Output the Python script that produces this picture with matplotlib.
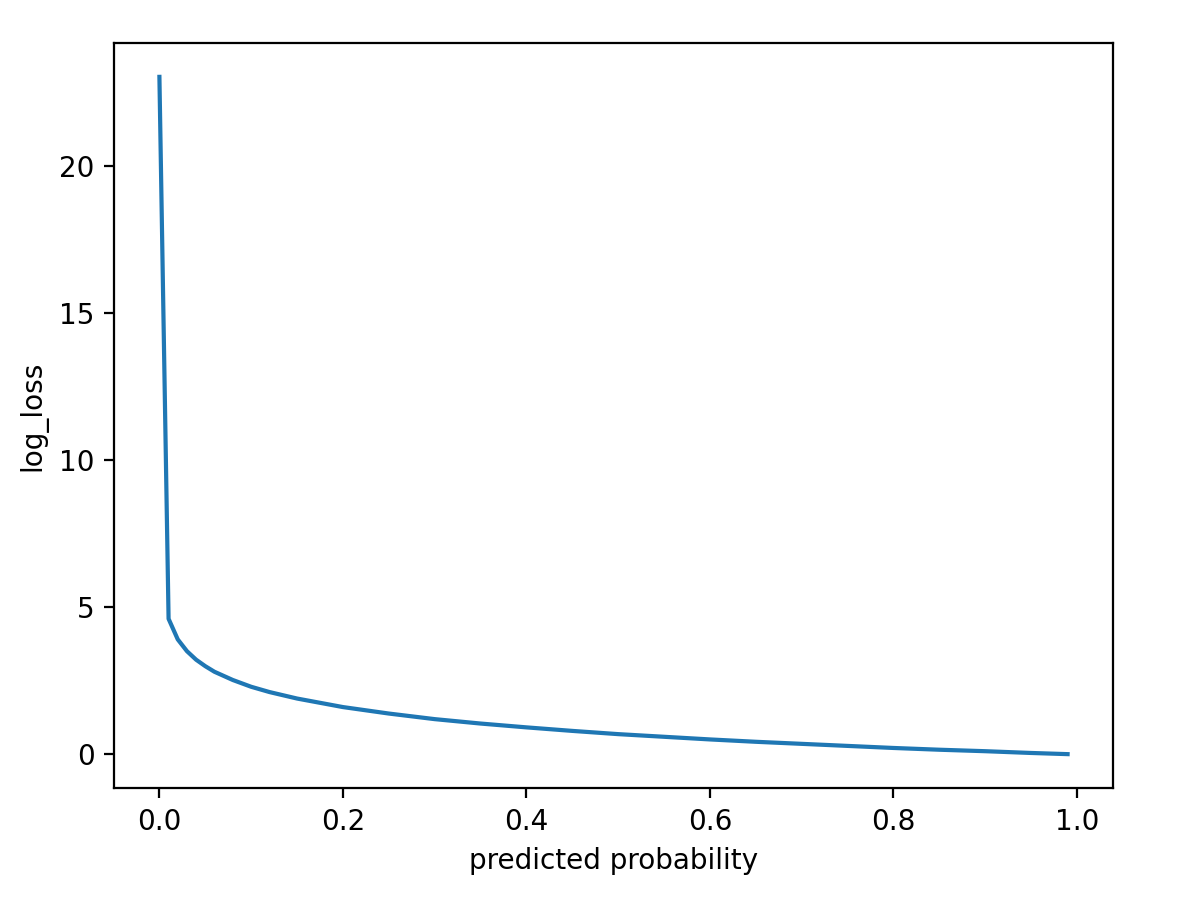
import matplotlib
matplotlib.use("Agg")
import matplotlib.pyplot as plt

# values
probability = [0.0, 0.01, 0.02, 0.03, 0.04, 0.05, 0.06, 0.08, 0.10, 0.12,
               0.15, 0.20, 0.25, 0.30, 0.35, 0.40, 0.45, 0.50, 0.55, 0.60,
               0.65, 0.70, 0.75, 0.80, 0.85, 0.90, 0.95, 0.99]
log_loss = [23.03, 4.61, 3.91, 3.51, 3.22, 3.00, 2.81, 2.53, 2.30, 2.12,
            1.90, 1.61, 1.39, 1.20, 1.05, 0.92, 0.80, 0.69, 0.60, 0.51,
            0.43, 0.36, 0.29, 0.22, 0.16, 0.11, 0.05, 0.01]

DPI = 201
fig = plt.figure(figsize=(1200 / DPI, 899 / DPI), dpi=DPI)
ax = fig.add_axes([114 / 1200, 1 - 788 / 899, 999 / 1200, 745 / 899])
ax.plot(probability, log_loss, color="tab:blue")
ax.set_xlabel("predicted probability")
ax.set_ylabel("log_loss")
fig.savefig("out.png", dpi=DPI)
